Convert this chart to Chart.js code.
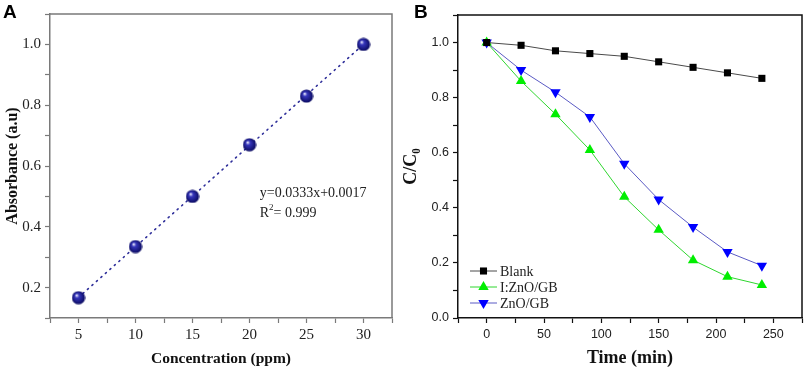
<!DOCTYPE html>
<html>
<head>
<meta charset="utf-8">
<script src="https://cdn.jsdelivr.net/npm/chart.js@4.4.1/dist/chart.umd.min.js"></script>
<style>
  html, body { margin: 0; padding: 0; background: #fff; }
  #wrap { position: relative; width: 809px; height: 370px; overflow: hidden; }
  .panel { position: absolute; top: 0; height: 370px; }
  .tag { position: absolute; font: bold 19px "Liberation Sans", Arial, sans-serif; color: #000; line-height: 1; }
</style>
</head>
<body>
<div id="wrap">
  <div class="panel" style="left:0;width:400px;"><canvas id="chartA" width="400" height="370"></canvas></div>
  <div class="panel" style="left:400px;width:409px;"><canvas id="chartB" width="409" height="370"></canvas></div>
  <div class="tag" style="left:3px;top:2px;">A</div>
  <div class="tag" style="left:414px;top:2px;">B</div>
</div>
<script>
// panel A - calibration curve
const concPpm = [5, 10, 15, 20, 25, 30];
const absorbance = [0.167, 0.335, 0.5, 0.67, 0.83, 1.0];
const fitX = [5, 30];
const fitY = [0.168, 1.0];

// panel B - degradation
const timeMin = [0, 30, 60, 90, 120, 150, 180, 210, 240];
const blank = [1.0, 0.99, 0.97, 0.96, 0.95, 0.93, 0.91, 0.89, 0.87];
const iZnoGb = [1.0, 0.86, 0.74, 0.61, 0.44, 0.32, 0.21, 0.15, 0.12];
const znoGb = [1.0, 0.90, 0.82, 0.73, 0.56, 0.43, 0.33, 0.24, 0.19];
const seriesNames = ['Blank', 'I:ZnO/GB', 'ZnO/GB'];

const SERIF = '"Liberation Serif", "Times New Roman", serif';
const SANS = '"Liberation Sans", Arial, sans-serif';

const pairs = (xs, ys) => xs.map((x, i) => ({ x, y: ys[i] }));

// shaded ball used as the point style in panel A
const ball = document.createElement('canvas');
ball.width = 14; ball.height = 14;
(function () {
  const c = ball.getContext('2d');
  const g = c.createRadialGradient(5, 4.5, 0.3, 7, 7, 7);
  g.addColorStop(0, '#f4f4ff');
  g.addColorStop(0.28, '#3636bc');
  g.addColorStop(1, '#07075a');
  c.fillStyle = g;
  c.beginPath();
  c.arc(7, 7, 6.6, 0, Math.PI * 2);
  c.fill();
})();

const framePlugin = {
  id: 'frame',
  afterDraw(chart, args, opts) {
    const { ctx, chartArea: a } = chart;
    ctx.save();
    ctx.strokeStyle = opts.color;
    ctx.lineWidth = opts.width;
    ctx.beginPath();
    ctx.moveTo(a.left, a.top);
    ctx.lineTo(a.right, a.top);
    ctx.lineTo(a.right, a.bottom);
    ctx.stroke();
    ctx.restore();
  }
};

// equation text, anchored in data units
const eqPlugin = {
  id: 'eq',
  afterDraw(chart) {
    const { ctx, scales } = chart;
    const x = scales.x.getPixelForValue(20.9);
    const y1 = scales.y.getPixelForValue(0.511);
    const y2 = scales.y.getPixelForValue(0.445);
    ctx.save();
    ctx.fillStyle = '#222';
    ctx.textBaseline = 'middle';
    ctx.font = '14px ' + SERIF;
    ctx.fillText('y=0.0333x+0.0017', x, y1);
    ctx.fillText('R', x, y2);
    let w = ctx.measureText('R').width;
    ctx.font = '9px ' + SERIF;
    ctx.fillText('2', x + w, y2 - 5);
    w += ctx.measureText('2').width;
    ctx.font = '14px ' + SERIF;
    ctx.fillText('= 0.999', x + w, y2);
    ctx.restore();
  }
};

const legendPlugin = {
  id: 'lineLegend',
  afterDraw(chart) {
    const { ctx, chartArea: a } = chart;
    const x0 = a.left + 12;
    ctx.save();
    chart.data.datasets.forEach((ds, i) => {
      const y = a.bottom - 47 + i * 16;
      ctx.strokeStyle = ds.borderColor;
      ctx.lineWidth = 1;
      ctx.beginPath();
      ctx.moveTo(x0, y);
      ctx.lineTo(x0 + 27, y);
      ctx.stroke();
      ctx.fillStyle = ds.pointBackgroundColor;
      ctx.strokeStyle = ds.pointBackgroundColor;
      Chart.helpers.drawPoint(ctx, {
        pointStyle: ds.pointStyle, rotation: ds.pointRotation || 0,
        radius: ds.pointRadius, borderWidth: 0
      }, x0 + 13.5, y);
      ctx.fillStyle = '#222';
      ctx.font = '14px ' + SERIF;
      ctx.textBaseline = 'middle';
      ctx.fillText(ds.label, x0 + 30, y + 1);
    });
    ctx.restore();
  }
};

const evenTenths = (v) => {
  const k = Math.round(v * 10);
  return k % 2 !== 0 ? '' : (k / 10).toFixed(1);
};

new Chart(document.getElementById('chartA'), {
  type: 'scatter',
  data: {
    datasets: [
      {
        label: 'Absorbance',
        data: pairs(concPpm, absorbance),
        showLine: false,
        pointStyle: ball,
        pointRadius: 7,
        pointHoverRadius: 7
      },
      {
        label: 'Linear fit',
        data: pairs(fitX, fitY),
        showLine: true,
        pointRadius: 0,
        borderColor: '#2f2f9a',
        borderWidth: 1.6,
        borderDash: [1.2, 4.8],
        borderCapStyle: 'round'
      }
    ]
  },
  options: {
    responsive: false,
    animation: false,
    layout: { padding: { top: 14, right: 3, left: 0, bottom: 0 } },
    plugins: { legend: { display: false }, tooltip: { enabled: false }, frame: { color: '#7a7a7a', width: 1.5 } },
    scales: {
      x: {
        type: 'linear', min: 2.5, max: 32.5,
        afterFit: (s) => { s.height = 52; },
        ticks: { stepSize: 2.5, autoSkip: false, maxRotation: 0, padding: 3, color: '#222',
          font: { family: SERIF, size: 15 },
          callback: (v) => (Math.abs(v % 5) < 1e-6 ? String(v) : '') },
        grid: { drawOnChartArea: false, tickLength: 5, tickColor: '#7a7a7a', tickWidth: 1.2 },
        border: { color: '#7a7a7a', width: 1.5 },
        title: { display: true, text: 'Concentration (ppm)', color: '#111',
          font: { family: SERIF, size: 15.5, weight: 'bold' }, padding: { top: 0, bottom: 2 } }
      },
      y: {
        type: 'linear', min: 0.1, max: 1.1,
        afterFit: (s) => { s.width = 50; },
        ticks: { stepSize: 0.1, autoSkip: false, padding: 4, color: '#222',
          font: { family: SERIF, size: 15 }, callback: evenTenths },
        grid: { drawOnChartArea: false, tickLength: 5, tickColor: '#7a7a7a', tickWidth: 1.2 },
        border: { color: '#7a7a7a', width: 1.5 },
        title: { display: true, text: 'Absorbance (a.u)', color: '#111',
          font: { family: SERIF, size: 16, weight: 'bold' }, padding: { top: 3, bottom: 0 } }
      }
    }
  },
  plugins: [framePlugin, eqPlugin]
});

new Chart(document.getElementById('chartB'), {
  type: 'line',
  data: {
    datasets: [
      {
        label: seriesNames[0], data: pairs(timeMin, blank),
        borderColor: '#4a4a4a', borderWidth: 1,
        pointStyle: 'rect', pointRadius: 5, pointHoverRadius: 5, pointBorderWidth: 0,
        pointBackgroundColor: '#000000'
      },
      {
        label: seriesNames[1], data: pairs(timeMin, iZnoGb),
        borderColor: '#2fd62f', borderWidth: 1,
        pointStyle: 'triangle', pointRadius: 6, pointHoverRadius: 6, pointBorderWidth: 0,
        pointBackgroundColor: '#00ee00'
      },
      {
        label: seriesNames[2], data: pairs(timeMin, znoGb),
        borderColor: '#5a5ac4', borderWidth: 1,
        pointStyle: 'triangle', pointRotation: 180, pointRadius: 6, pointHoverRadius: 6, pointBorderWidth: 0,
        pointBackgroundColor: '#0000ff'
      }
    ]
  },
  options: {
    responsive: false,
    animation: false,
    layout: { padding: { top: 15, right: 7, left: 0, bottom: 0 } },
    plugins: { legend: { display: false }, tooltip: { enabled: false }, frame: { color: '#111', width: 1.5 } },
    scales: {
      x: {
        type: 'linear', min: -25, max: 275,
        afterFit: (s) => { s.height = 52; },
        ticks: { stepSize: 25, autoSkip: false, maxRotation: 0, padding: 4, color: '#222',
          font: { family: SANS, size: 12.5 },
          callback: (v) => (v % 50 === 0 ? String(v) : '') },
        grid: { drawOnChartArea: false, tickLength: 5, tickColor: '#111', tickWidth: 1.2 },
        border: { color: '#111', width: 1.5 },
        title: { display: true, text: 'Time (min)', color: '#111',
          font: { family: SERIF, size: 18, weight: 'bold' }, padding: { top: 0, bottom: 1 } }
      },
      y: {
        type: 'linear', min: 0, max: 1.1,
        afterFit: (s) => { s.width = 58; },
        ticks: { stepSize: 0.1, autoSkip: false, padding: 4, color: '#222',
          font: { family: SANS, size: 12.5 }, callback: evenTenths },
        grid: { drawOnChartArea: false, tickLength: 5, tickColor: '#111', tickWidth: 1.2 },
        border: { color: '#111', width: 1.5 },
        title: { display: true, text: 'C/C\u2080', color: '#111',
          font: { family: SERIF, size: 18, weight: 'bold' }, padding: { top: 1, bottom: 0 } }
      }
    }
  },
  plugins: [framePlugin, legendPlugin]
});
</script>
</body>
</html>
